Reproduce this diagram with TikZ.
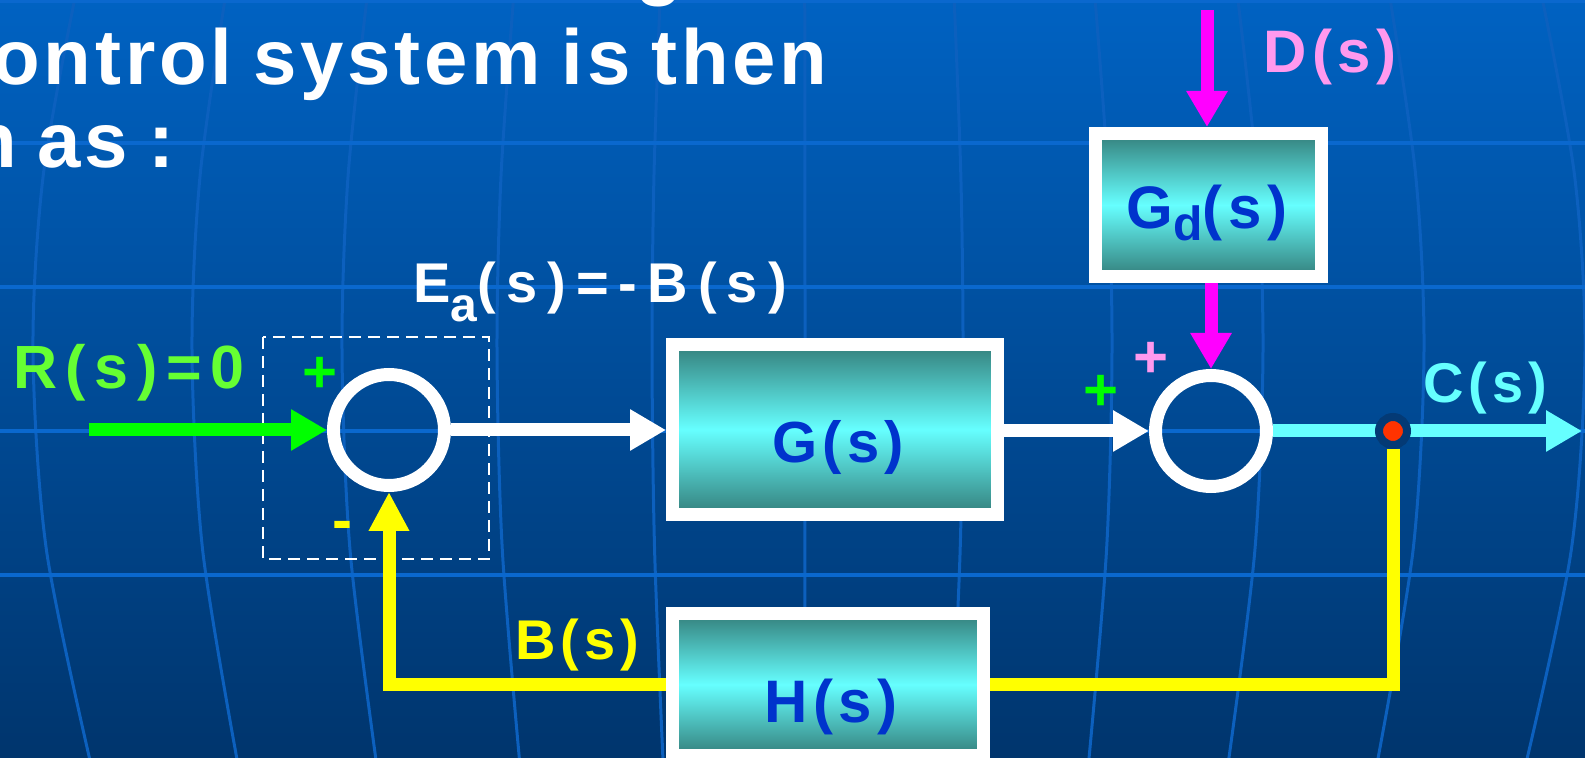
\documentclass[tikz,border=0pt]{standalone}
\usepackage{fontspec}
\setmainfont{Liberation Sans}
\newfontfamily\titlefont[LetterSpace=5,WordSpace=0.8]{Liberation Sans}
\newfontfamily\blockfont[LetterSpace=9]{Liberation Sans}
\newfontfamily\humfont[LetterSpace=14]{Liberation Sans}
\newfontfamily\eafont[LetterSpace=18]{Liberation Sans}
\usetikzlibrary{arrows.meta}
\definecolor{bgtop}{HTML}{0062C2}
\definecolor{bgbot}{HTML}{00356D}
\definecolor{gridc}{HTML}{0A68CE}
\definecolor{meric}{HTML}{0C60BE}
\definecolor{boxdark}{HTML}{347F7B}
\definecolor{boxlight}{HTML}{66FFFF}
\definecolor{labelblue}{HTML}{0033CC}
\definecolor{greenarr}{HTML}{00FF00}
\definecolor{greentext}{HTML}{66FF33}
\definecolor{magentac}{HTML}{FF00FF}
\definecolor{pinkc}{HTML}{FF99EE}
\definecolor{yellowc}{HTML}{FFFF00}
\definecolor{cyanc}{HTML}{66FFFF}
\definecolor{dotred}{HTML}{FF3300}
\definecolor{ringblue}{HTML}{043A75}
\begin{document}
\begin{tikzpicture}[x=0.5pt,y=0.5pt,
  blockbox/.style={draw=white, line width=6.5pt, top color=boxdark, bottom color=boxdark, middle color=boxlight, inner sep=0pt},
  sumnode/.style={circle, draw=white, line width=6.5pt, minimum size=55.5pt, inner sep=0pt},
  arr/.style={line width=6.5pt, -{Triangle[length=18pt,width=19.5pt]}},
  blocklabel/.style={text=labelblue, inner sep=0pt, anchor=base, font=\blockfont\bfseries\fontsize{29pt}{30pt}\selectfont},
  titletext/.style={text=white, inner sep=0pt, font=\titlefont\bfseries\fontsize{39pt}{40pt}\selectfont},
  humtext/.style={inner sep=0pt, anchor=base west, font=\humfont\bfseries\fontsize{30.5pt}{30pt}\selectfont},
  signtext/.style={inner sep=0pt, anchor=base, font=\bfseries\fontsize{30pt}{30pt}\selectfont},
  meridian/.style={draw=meric, line width=1.5pt},
  gridline/.style={draw=gridc, line width=2pt}
]
\useasboundingbox (0,-758) rectangle (1585,0);
\clip (0,-758) rectangle (1585,0);
% background
\fill[top color=bgtop, bottom color=bgbot] (0,-758) rectangle (1585,0);
\foreach \d in {-767,-608,-458,-303,-148,5,163,312,463,624,785} {
  \draw[meridian] plot[smooth] coordinates {({800+\d*0.9433},10) ({800+\d*0.9866},-175) ({800+\d},-350) ({800+\d*0.9825},-550) ({800+\d*0.9228},-770)};
}
\foreach \yy in {1.5,143,287,431,575} {
  \draw[gridline] (0,-\yy) -- (1585,-\yy);
}
% title text (a crop of a longer slide text)
\node[titletext, anchor=base east] (t0) at (838,9) {block diagram};
\node[titletext, anchor=base east] (t1) at (828,-85) {control system is then};
\node[titletext, anchor=base east] (t2) at (175,-168) {drawn as :};
% dashed grouping box
\draw[white, line width=1.25pt, dash pattern=on 6pt off 3.5pt] (263,-337) rectangle (489,-559);
% blocks
\node[blockbox, minimum width=162.5pt, minimum height=85pt] (G) at (835,-429.5) {};
\node[blockbox, minimum width=113pt, minimum height=71.5pt] (Gd) at (1208.5,-205) {};
\node[blockbox, minimum width=155.5pt, minimum height=71pt] (H) at (828,-684.5) {};
\node[blocklabel] (Glab) at (838,-463) {G(s)};
\node[blocklabel, font=\blockfont\bfseries\fontsize{30pt}{30pt}\selectfont] (Gdlab) at (1207,-229) {G\raisebox{-6pt}{\fontsize{24pt}{24pt}\selectfont d}(s)};
\node[blocklabel, font=\blockfont\bfseries\fontsize{30pt}{30pt}\selectfont] (Hlab) at (831,-722) {H(s)};
% summing junctions
\node[sumnode] (s1) at (389,-430) {};
\node[sumnode] (s2) at (1211,-431) {};
% coordinates for free ends
\coordinate (rin) at (89,-430);
\coordinate (dtop) at (1207,-10);
\coordinate (cend) at (1582,-431);
% signals
\draw[arr, greenarr] (rin) -- (s1.west);
\draw[arr, white] (s1.east) -- (s1.east -| G.west);
\draw[arr, white] (G.east |- s2.west) -- (s2.west);
\draw[arr, magentac] (dtop) -- (dtop |- Gd.north);
\draw[arr, magentac] (Gd.south -| s2.north) -- (s2.north);
\draw[arr, cyanc] (s2.east) -- (cend);
\node[circle, fill=dotred, draw=ringblue, line width=4pt, minimum size=14pt, inner sep=0pt] (dot) at (1393,-431) {};
\draw[yellowc, line width=6.5pt, line join=miter] (dot.south) -- (dot.center |- H.east) -- (H.east);
\draw[yellowc, line width=6.5pt, line join=miter, -{Triangle[length=19.5pt,width=19pt]}] (H.west) -- (H.west -| s1.south) -- (s1.south);
% labels
\node[humtext, text=greentext] (rlab) at (13,-389) {R(s)=0};
\node[humtext, text=white, font=\eafont\bfseries\fontsize{28pt}{30pt}\selectfont] (ealab) at (413,-303) {E\raisebox{-9.5pt}{\fontsize{24pt}{24pt}\selectfont a}(s)=-B(s)};
\node[blocklabel, text=yellowc, font=\blockfont\bfseries\fontsize{28pt}{30pt}\selectfont] (blab) at (577,-660) {B(s)};
\node[blocklabel, text=cyanc, font=\blockfont\bfseries\fontsize{28pt}{30pt}\selectfont] (clab) at (1485,-403) {C(s)};
\node[blocklabel, text=pinkc, font=\blockfont\bfseries\fontsize{30pt}{30pt}\selectfont] (dlab) at (1330,-73) {D(s)};
\node[signtext, text=greenarr] (p1) at (320,-393) {+};
\node[signtext, text=yellowc] (m1) at (342,-541) {-};
\node[signtext, text=greenarr] (p2) at (1101,-411) {+};
\node[signtext, text=pinkc] (p3) at (1151,-378) {+};
\end{tikzpicture}
\end{document}
